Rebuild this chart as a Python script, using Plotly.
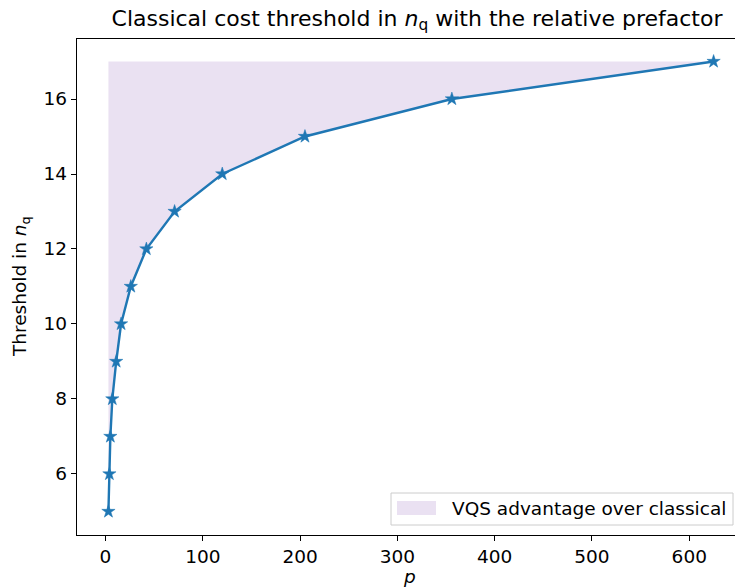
import plotly.graph_objects as go

# Data
p_values = [3, 4, 5, 7, 11, 16, 26, 42, 71, 120, 205, 356, 625]
threshold_nq = [5, 6, 7, 8, 9, 10, 11, 12, 13, 14, 15, 16, 17]
fill_top = 17
x_ticks = [0, 100, 200, 300, 400, 500, 600]
y_ticks = [6, 8, 10, 12, 14, 16]
legend_label = "VQS advantage over classical"

W, H = 735, 588
L, R, T, B = 77, 0, 39, 53
pw, ph = W - L - R, H - T - B
FS = 18.5


def px(x):
    return (x - L) / pw


def py(y):
    return (T + ph - y) / ph


fig = go.Figure()
# upper boundary for fill (invisible)
fig.add_trace(go.Scatter(x=p_values, y=[fill_top] * len(p_values), mode="lines",
                         line=dict(width=0, color="rgba(0,0,0,0)"), showlegend=False,
                         hoverinfo="skip"))
fig.add_trace(go.Scatter(x=p_values, y=threshold_nq, mode="none", fill="tonexty",
                         fillcolor="rgba(148,103,189,0.2)",
                         name=legend_label, showlegend=False))
fig.add_trace(go.Scatter(x=p_values, y=threshold_nq, mode="lines+markers",
                         line=dict(color="#1f77b4", width=2.4),
                         marker=dict(symbol="star", size=10, color="#1f77b4",
                                     line=dict(width=0.5, color="#1f77b4")),
                         showlegend=False))

font = "DejaVu Sans, Arial, sans-serif"
shapes = [
    # legend frame
    dict(type="rect", xref="paper", yref="paper", x0=px(391), x1=px(733), y0=py(525), y1=py(493),
         line=dict(color="#cccccc", width=1), fillcolor="rgba(255,255,255,0.8)", layer="above"),
    # legend patch
    dict(type="rect", xref="paper", yref="paper", x0=px(397), x1=px(436), y0=py(515), y1=py(501),
         line=dict(width=0), fillcolor="rgba(148,103,189,0.2)", layer="above"),
]
fig.update_layout(
    width=W, height=H,
    margin=dict(l=L, r=R, t=T, b=B, autoexpand=False),
    plot_bgcolor="white", paper_bgcolor="white",
    font=dict(family=font, size=FS, color="black"),
    showlegend=False,
    title=dict(text="Classical cost threshold in <i>n</i><sub>q</sub> with the relative prefactor",
               x=417 / W, xanchor="center", y=1 - 18 / H, yanchor="middle",
               font=dict(size=22, family=font, color="black")),
    xaxis=dict(range=[-29.3, 647], tickvals=x_ticks, ticks="outside", ticklen=5,
               tickwidth=1.2, tickcolor="black", showline=True, linecolor="black",
               linewidth=1.3, mirror=True, showgrid=False, zeroline=False,
               tickfont=dict(size=FS)),
    yaxis=dict(range=[4.373, 17.6], tickvals=y_ticks, ticks="outside", ticklen=5,
               tickwidth=1.2, tickcolor="black", showline=True, linecolor="black",
               linewidth=1.3, showgrid=False, zeroline=False, tickfont=dict(size=FS)),
    shapes=shapes,
    annotations=[
        dict(text="Threshold in <i>n</i><sub>q</sub>", textangle=-90, xref="paper", yref="paper",
             x=px(21), y=0.5, xanchor="center", yanchor="middle", showarrow=False,
             font=dict(size=FS)),
        dict(text="<i>p</i>", xref="paper", yref="paper", x=px(410),
             y=py(576), xanchor="center", yanchor="middle", showarrow=False,
             font=dict(size=FS)),
        dict(text=legend_label, xref="paper", yref="paper", x=px(450), y=py(508),
             xanchor="left", yanchor="middle", showarrow=False, font=dict(size=FS)),
    ],
)

fig.write_html("out.html", config={"displayModeBar": False},
               post_script="document.body.style.margin='0';document.body.style.overflow='hidden';")
